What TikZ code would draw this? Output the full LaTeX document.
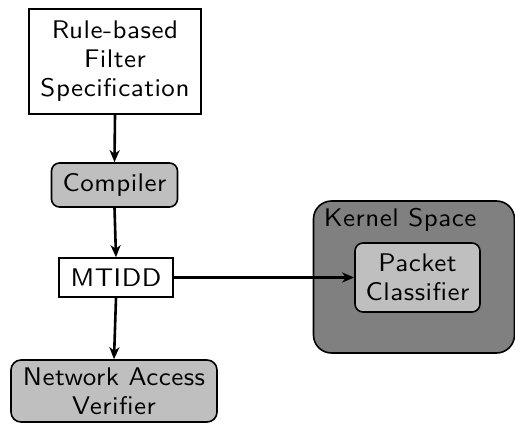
\documentclass[tikz,border=0pt]{standalone}
\usepackage{fontspec}
\setsansfont{lmsans10-regular.otf}[FakeStretch=1.06,LetterSpace=2]
\usetikzlibrary{arrows.meta}
\newcommand{\diagfont}{\sffamily\fontsize{25.5}{29}\selectfont}
\begin{document}
\begin{tikzpicture}[x=1pt,y=-1pt,
  every node/.style={font=\diagfont, align=center, inner sep=0pt, line width=1.6pt},
  sqbox/.style={draw, fill=white},
  rbox/.style={draw, fill=black!25, rounded corners=8pt},
  kbox/.style={draw, fill=black!50, rounded corners=18pt},
  conn/.style={-{Stealth[length=12pt,width=10pt,inset=3.5pt]}, line width=2.6pt}]
\useasboundingbox (0,0) rectangle (515,426);
\node[kbox, minimum width=201pt, minimum height=152pt] (kern) at (414,277) {};
\node[anchor=north west] (klab) at (323,207) {Kernel Space};
\node[rbox, minimum width=125pt, minimum height=69pt] (pc) at (417.5,277.5) {Packet\\Classifier};
\node[sqbox, minimum width=172pt, minimum height=105pt] (spec) at (115,61.5) {Rule-based\\Filter\\Specification};
\node[rbox, minimum width=126pt, minimum height=44pt] (comp) at (114.5,185) {Compiler};
\node[sqbox, minimum width=114pt, minimum height=39pt] (mt) at (116,277.5) {MTIDD};
\node[rbox, minimum width=206pt, minimum height=62pt, rounded corners=10pt] (nav) at (114,391) {Network Access\\Verifier};
\draw[conn] (spec.south) -- (comp.north);
\draw[conn] (comp.south) -- (mt.north);
\draw[conn] (mt.south) -- (nav.north);
\draw[conn] (mt.east) -- (pc.west);
\end{tikzpicture}
\end{document}
